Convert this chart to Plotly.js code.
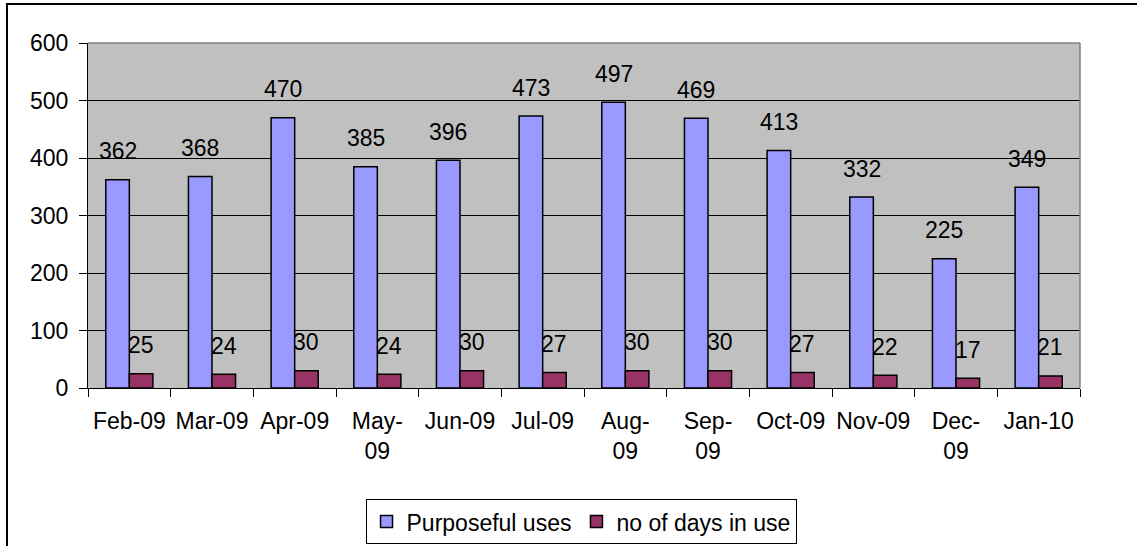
<!DOCTYPE html>
<html>
<head>
<meta charset="utf-8">
<script src="https://cdn.plot.ly/plotly-3.0.1.min.js"></script>
<style>
  html, body { margin: 0; padding: 0; background: #fff; overflow: hidden; }
  #wrap { position: relative; width: 1137px; height: 546px; }
  #chart { width: 1137px; height: 546px; }
  #frame { position: absolute; left: 6px; top: 3px; width: 1300px; height: 800px;
           border: 2px solid #000; pointer-events: none; box-sizing: border-box; }
</style>
</head>
<body>
<div id="wrap">
  <div id="chart"></div>
  <div id="frame"></div>
</div>
<script>
const months = ["Feb-09","Mar-09","Apr-09","May-09","Jun-09","Jul-09","Aug-09","Sep-09","Oct-09","Nov-09","Dec-09","Jan-10"];
const monthTickText = ["Feb-09","Mar-09","Apr-09","May-<br>09","Jun-09","Jul-09","Aug-<br>09","Sep-<br>09","Oct-09","Nov-09","Dec-<br>09","Jan-10"];
const purposefulUses = [362,368,470,385,396,473,497,469,413,332,225,349];
const daysInUse = [25,24,30,24,30,27,30,30,27,22,17,21];
const seriesNames = ["Purposeful uses","no of days in use"];

const FONT = "Liberation Sans, Arial, sans-serif";
const FS = 23;
const barHalf = 11.7;

const traces = [
  { type: "bar", name: seriesNames[0], x: months, y: purposefulUses,
    marker: { color: "#9999FF", line: { color: "#000", width: 1.5 } }, hoverinfo: "skip" },
  { type: "bar", name: seriesNames[1], x: months, y: daysInUse,
    marker: { color: "#993366", line: { color: "#000", width: 1.5 } }, hoverinfo: "skip" }
];

const annotations = [];
[[purposefulUses, -barHalf], [daysInUse, barHalf]].forEach(([vals, dx]) => {
  vals.forEach((v, i) => {
    annotations.push({ x: months[i], y: v, xref: "x", yref: "y", text: String(v),
      showarrow: false, yanchor: "bottom", xanchor: "center", xshift: dx, yshift: 13.5,
      font: { family: FONT, size: FS, color: "#000" } });
  });
});

const layout = {
  width: 1137, height: 546,
  margin: { l: 88, r: 57, t: 43, b: 158, pad: 0, autoexpand: false },
  paper_bgcolor: "#fff", plot_bgcolor: "#C0C0C0",
  font: { family: FONT, size: FS, color: "#000" },
  barmode: "group", bargap: 0.43, bargroupgap: 0,
  showlegend: true,
  legend: { orientation: "h", x: 0.497, xanchor: "center", y: -0.322, yanchor: "top",
    bgcolor: "#fff", bordercolor: "#000", borderwidth: 1,
    font: { family: FONT, size: FS, color: "#000" }, itemclick: false },
  xaxis: { type: "category", tickvals: months, ticktext: monthTickText, tickangle: 0,
    tickson: "boundaries", ticks: "outside", ticklen: 8, tickcolor: "#000", tickwidth: 1,
    showline: true, linecolor: "#000", linewidth: 1, showgrid: false, automargin: false,
    ticklabelstandoff: 12,
    tickfont: { family: FONT, size: FS, color: "#000" } },
  yaxis: { range: [0, 600], dtick: 100, tick0: 0, ticks: "outside", ticklen: 8,
    tickcolor: "#000", tickwidth: 1, showline: true, linecolor: "#000", linewidth: 1,
    showgrid: true, gridcolor: "#000", gridwidth: 1, zeroline: false, automargin: false,
    ticklabelstandoff: 6,
    tickfont: { family: FONT, size: FS, color: "#000" } },
  shapes: [
    { type: "line", xref: "paper", yref: "paper", x0: 0, x1: 1, y0: 1, y1: 1,
      line: { color: "#808080", width: 1.5 }, layer: "above" },
    { type: "line", xref: "paper", yref: "paper", x0: 1, x1: 1, y0: 0, y1: 1,
      line: { color: "#808080", width: 1.5 }, layer: "above" }
  ],
  annotations: annotations
};

Plotly.newPlot("chart", traces, layout, { displayModeBar: false, staticPlot: true });
</script>
</body>
</html>
